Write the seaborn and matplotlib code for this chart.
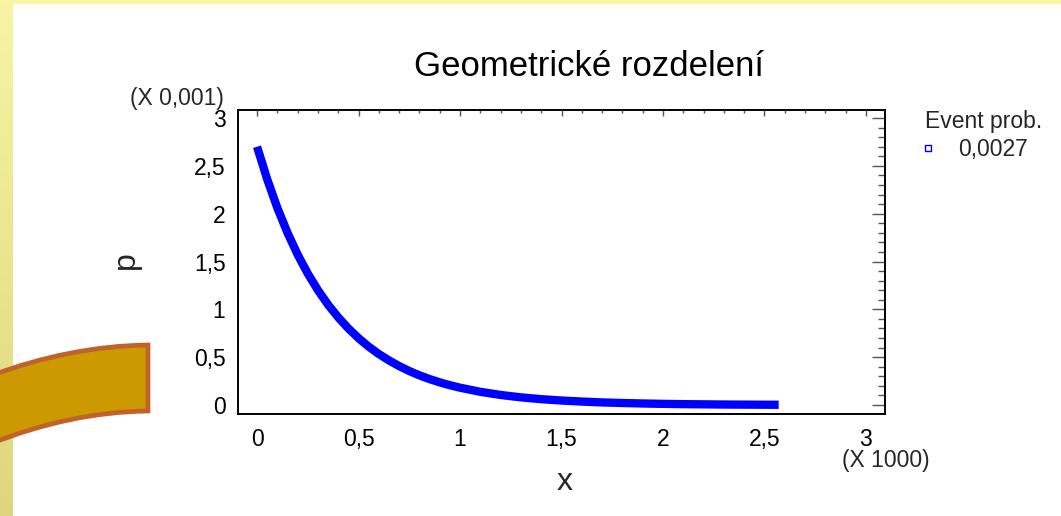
import numpy as np
import pandas as pd
import seaborn as sns
import matplotlib
matplotlib.use("Agg")
import matplotlib.pyplot as plt
from matplotlib.lines import Line2D
from matplotlib.patches import PathPatch, Rectangle
from matplotlib.path import Path
from matplotlib.ticker import MultipleLocator, FuncFormatter, FixedLocator

# Geometric distribution, event probability 0.0027: x (trials) and p (in units of 0.001)
x_values = [0, 50, 100, 150, 200, 250, 300, 350, 400, 450, 500, 550, 600,
            650, 700, 750, 800, 850, 900, 950, 1000, 1100, 1200, 1300, 1400,
            1500, 1600, 1700, 1800, 1900, 2000, 2100, 2200, 2300, 2400, 2500,
            2570]
p_values = [2.700, 2.359, 2.060, 1.800, 1.572, 1.373, 1.200, 1.048, 0.916,
            0.800, 0.699, 0.610, 0.533, 0.466, 0.407, 0.355, 0.310, 0.271,
            0.237, 0.207, 0.181, 0.138, 0.105, 0.080, 0.061, 0.047, 0.036,
            0.027, 0.021, 0.016, 0.012, 0.009, 0.007, 0.005, 0.004, 0.003,
            0.0025]
event_prob_label = "0,0027"
x_ticks = [0, 0.5, 1, 1.5, 2, 2.5, 3]
y_ticks = [0, 0.5, 1, 1.5, 2, 2.5, 3]

sns.set_theme(style="white")
plt.rcParams["font.family"] = ["Liberation Sans", "DejaVu Sans"]

W, H = 1061, 516
fig = plt.figure(figsize=(W / 100, H / 100), dpi=100, facecolor="white")


def fx(px):
    return px / W


def fy(py):
    return 1 - py / H


# slide background: yellow bands along the top and left edges
grad_ax = fig.add_axes([0, 0, fx(13), 1], zorder=-5)
grad = np.linspace(0, 1, 256).reshape(-1, 1)
grad_ax.imshow(grad, aspect="auto", extent=[0, 1, 0, 1], origin="upper",
               cmap=matplotlib.colors.LinearSegmentedColormap.from_list(
                   "band", ["#F8F4A2", "#DDD67E"]))
grad_ax.set_axis_off()
fig.patches.append(Rectangle((0, fy(4)), 1, 4 / H, transform=fig.transFigure,
                             facecolor="#F8F4A2", edgecolor="none", zorder=-4))

# decorative curved arrow band on the left
verts = [(-10, 376), (70, 346), (148, 345), (148, 345), (148, 411),
         (148, 411), (70, 412), (-10, 444), (-10, 376)]
codes = [Path.MOVETO, Path.CURVE3, Path.CURVE3, Path.LINETO, Path.LINETO,
         Path.LINETO, Path.CURVE3, Path.CURVE3, Path.CLOSEPOLY]
band_path = Path([(fx(a), fy(b)) for a, b in verts], codes)
fig.patches.append(PathPatch(band_path, transform=fig.transFigure,
                             facecolor="#CC9900", edgecolor="#C0622A",
                             linewidth=3.4, joinstyle="miter", zorder=5))

# main axes
ax = fig.add_axes([fx(238), fy(414), fx(885) - fx(238), fy(110) - fy(414)])
ax.set_facecolor("white")

df = pd.DataFrame({"x": np.array(x_values) / 1000.0, "p": p_values})
sns.lineplot(data=df, x="x", y="p", ax=ax, color="#0000FF", linewidth=6.0,
             solid_capstyle="butt", solid_joinstyle="round", legend=False)

ax.set_xlim(-0.094, 3.094)
ax.set_ylim(-0.094, 3.084)

fmt = FuncFormatter(lambda v, pos: f"{v:g}".replace(".", ","))
ax.xaxis.set_major_locator(FixedLocator(x_ticks))
ax.yaxis.set_major_locator(FixedLocator(y_ticks))
ax.xaxis.set_minor_locator(MultipleLocator(0.1))
ax.yaxis.set_minor_locator(MultipleLocator(0.1))
ax.xaxis.set_major_formatter(fmt)
ax.yaxis.set_major_formatter(fmt)

ax.tick_params(axis="both", which="both", direction="in", top=True, right=True,
               color="#555555", labelsize=16.5, labelcolor="black")
ax.tick_params(axis="y", which="major", length=9.5, width=1.0, pad=9)
ax.tick_params(axis="y", which="minor", length=5, width=1.0)
ax.tick_params(axis="x", which="major", length=4, width=1.0, pad=10)
ax.tick_params(axis="x", which="minor", length=2.5, width=1.0)
for s in ax.spines.values():
    s.set_color("black")
    s.set_linewidth(1.4)

ax.set_xlabel("")
ax.set_ylabel("")

fig.text(fx(589), fy(67), "Geometrické rozdelení", ha="center", va="center",
         fontsize=25, color="black")
fig.text(fx(565), fy(482), "x", ha="center", va="center", fontsize=23)
fig.text(fx(126), fy(260), "p", ha="center", va="center", fontsize=23,
         rotation=90)
fig.text(fx(177), fy(98), "(X 0,001)", ha="center", va="center", fontsize=16.5)
fig.text(fx(886), fy(461), "(X 1000)", ha="center", va="center", fontsize=16.5)

handle = Line2D([], [], linestyle="none", marker="s", markersize=5,
                markerfacecolor="none", markeredgecolor="#0000FF",
                markeredgewidth=1.0, label=event_prob_label)
leg = ax.legend(handles=[handle], title="Event prob.", loc="upper left",
                bbox_to_anchor=(fx(925), fy(110)), bbox_transform=fig.transFigure,
                frameon=False, fontsize=16.5, title_fontsize=16.5,
                handlelength=0.25, handletextpad=1.19, borderpad=0,
                borderaxespad=0, labelspacing=0.2, alignment="left")

fig.savefig("out.png", dpi=100, facecolor="white")
